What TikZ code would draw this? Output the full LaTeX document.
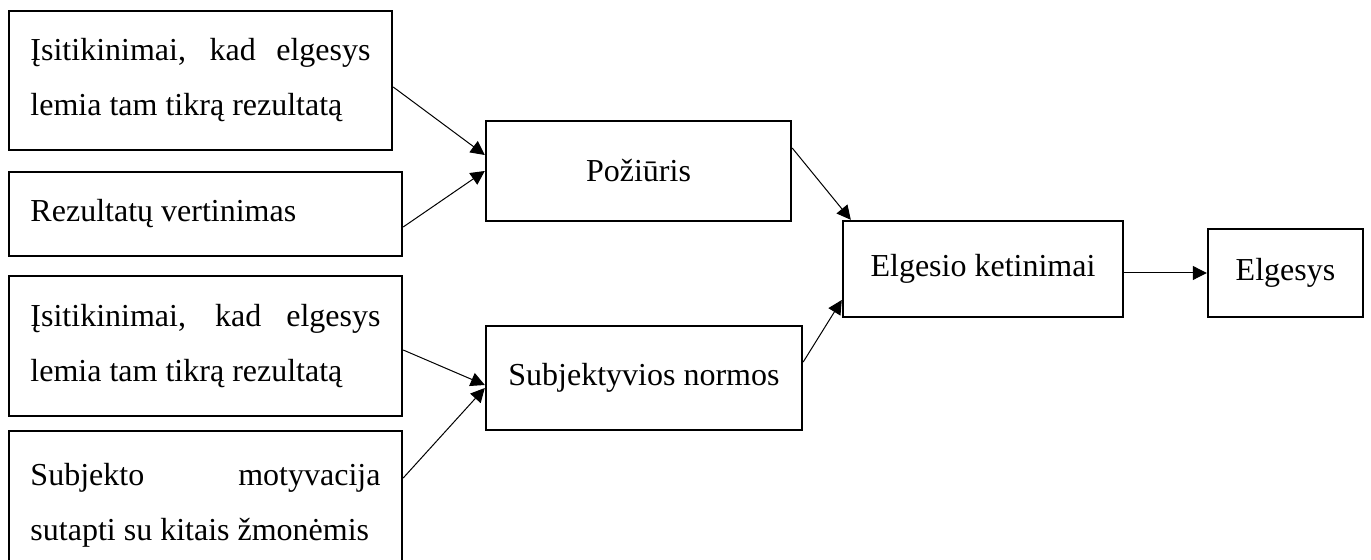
\documentclass[tikz,border=0pt]{standalone}
\usepackage{fontspec}
\setmainfont{Liberation Serif}
\usetikzlibrary{arrows.meta}

\tikzset{
	box/.style={draw, line width=1.2pt, inner ysep=0pt, font=\fontsize{16}{27.5}\selectfont},
	leftbox/.style={box, align=justify, inner xsep=10.75pt, minimum width=196.5pt},
	arr/.style={line width=0.5pt, -{Triangle[length=7pt,width=7pt]}}
}

\begin{document}
\begin{tikzpicture}[x=0.5pt, y=-0.5pt]
			%%%%% START %%%%%
			\useasboundingbox (0, 0) rectangle (1371, 560);
			\clip (0, 0) rectangle (1371, 560);
			
			\node[leftbox, text width=170pt, minimum width=191.5pt, minimum height=69.5pt] (tikinimai) at (200.5, 80.5) {Įsitikinimai, kad elgesys\linebreak lemia tam tikrą rezultatą};
			\node[leftbox, text width=175pt, minimum height=42pt] (vertinimas) at (205.5, 214) {Rezultatų vertinimas};
			
			\node[leftbox, text width=175pt, minimum height=70pt] (tikinimai2) at (205.5, 346) {Įsitikinimai, kad elgesys\linebreak lemia tam tikrą rezultatą};
			\node[leftbox, text width=175pt, minimum height=74pt] (motyvacija) at (205.5, 505) {Subjekto motyvacija\linebreak sutapti su kitais žmonėmis};
			
			\node[box, minimum width=152.5pt, minimum height=50pt] (poziuris) at (638.5, 171) {Požiūris};
			\node[box, minimum width=158pt, minimum height=52pt] (normos) at (644, 378) {Subjektyvios normos};
			
			\node[box, minimum width=140pt, minimum height=48pt] (ketinimai) at (983, 269) {Elgesio ketinimai};
			\node[box, minimum width=77.5pt, minimum height=44pt] (elgesys) at (1285.5, 273) {Elgesys};
			
			\draw[arr] ([yshift=-3.25pt]tikinimai.east) -- ([yshift=8pt]poziuris.west);
			\draw[arr] ([yshift=-6.5pt]vertinimas.east) -- (poziuris.west);
			\draw[arr] ([yshift=-2pt]tikinimai2.east) -- ([yshift=-3.5pt]normos.west);
			\draw[arr] ([yshift=13.5pt]motyvacija.east) -- ([yshift=-5pt]normos.west);
			
			\draw[arr] ([yshift=11.5pt]poziuris.east) -- ([xshift=4.5pt]ketinimai.north west);
			\draw[arr] ([yshift=8pt]normos.east) -- ([yshift=-15.5pt]ketinimai.west);
			\draw[arr] (ketinimai.east |- elgesys.west) -- (elgesys.west);
			
			%%%%% END %%%%%
\end{tikzpicture}
\end{document}
